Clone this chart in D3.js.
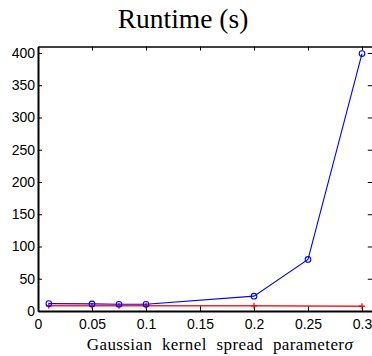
<!DOCTYPE html>
<html>
<head>
<meta charset="utf-8">
<script src="https://cdn.jsdelivr.net/npm/d3@7"></script>
<style>
  body { margin: 0; background: #fff; }
  svg { display: block; }
  .tick text { font-family: "Liberation Sans", Arial, sans-serif; font-size: 14px; fill: #000; }
</style>
</head>
<body>
<div id="chartArea"></div>
<script>
// sigma values and runtimes (seconds)
const sigmaBlue = [0.01, 0.05, 0.075, 0.1, 0.2, 0.25, 0.3];
const runtimeBlue = [11.5, 11, 10.5, 10.5, 23, 80, 399];
const sigmaRed = [0.01, 0.05, 0.075, 0.1, 0.2, 0.3];
const runtimeRed = [8, 8, 8, 8, 8, 7.5];
const xTicks = [0, 0.05, 0.1, 0.15, 0.2, 0.25, 0.3];
const xTickLabels = ["0", "0.05", "0.1", "0.15", "0.2", "0.25", "0.3"];
const yTicks = [0, 50, 100, 150, 200, 250, 300, 350, 400];

const width = 372, height = 356;
const margin = { left: 38, top: 46.5, bottom: 45 };

const svg = d3.select("#chartArea")
              .append("svg")
              .attr("width", width)
              .attr("height", height);

let x = d3.scaleLinear().domain([0, 0.31]).range([margin.left, 372.8]);
let y = d3.scaleLinear().domain([0, 410]).range([height - margin.bottom, margin.top]);

// axes box, ticks pointing inward like matlab
svg.append("g")
     .attr("transform", `translate(0,${y(0)})`)
     .call(d3.axisBottom(x).tickValues(xTicks).tickSize(-5).tickSizeOuter(0).tickPadding(8)
             .tickFormat((d, i) => xTickLabels[i]))
     .call(g => g.select(".domain").attr("stroke-width", 2));
svg.append("g")
     .attr("transform", `translate(0,${y(410)})`)
     .call(d3.axisTop(x).tickValues(xTicks).tickSize(-4).tickSizeOuter(0).tickFormat(""))
     .call(g => g.select(".domain").attr("stroke-width", 1.5));
svg.append("g")
     .attr("transform", `translate(${x(0)},0)`)
     .call(d3.axisLeft(y).tickValues(yTicks).tickSize(-4).tickSizeOuter(0).tickPadding(3))
     .call(g => g.select(".domain").attr("stroke-width", 2));
svg.append("g")
     .attr("transform", `translate(${x(0.31)},0)`)
     .call(d3.axisRight(y).tickValues(yTicks).tickSize(-5).tickSizeOuter(0).tickFormat(""))
     .call(g => g.select(".domain").attr("stroke-width", 1.5));

svg.selectAll(".tick line").attr("stroke", "#000");

const line = d3.line().x(d => x(d[0])).y(d => y(d[1]));
const redData = sigmaRed.map((s, i) => [s, runtimeRed[i]]);
const blueData = sigmaBlue.map((s, i) => [s, runtimeBlue[i]]);

svg.append("path")
     .datum(redData)
     .attr("d", line)
     .attr("fill", "none")
     .attr("stroke", "#ff2020")
     .attr("stroke-width", 1.5);
svg.append("g").selectAll("path")
     .data(redData)
     .enter().append("path")
       .attr("d", d => `M${x(d[0]) - 3},${y(d[1])}h6M${x(d[0])},${y(d[1]) - 3}v6`)
       .attr("stroke", "#ff0000")
       .attr("stroke-width", 1.2);

svg.append("path")
     .datum(blueData)
     .attr("d", line)
     .attr("fill", "none")
     .attr("stroke", "#0000ff")
     .attr("stroke-width", 1.1);
svg.append("g").selectAll("circle")
     .data(blueData)
     .enter().append("circle")
       .attr("cx", d => x(d[0]))
       .attr("cy", d => y(d[1]))
       .attr("r", 2.8)
       .attr("fill", "none")
       .attr("stroke", "#0000ff")
       .attr("stroke-width", 1.1);

svg.append("text")
     .attr("x", 183)
     .attr("y", 28)
     .attr("text-anchor", "middle")
     .style("font-family", "'Liberation Serif', 'Times New Roman', serif")
     .style("font-size", "27.5px")
     .text("Runtime (s)");

let xLabel = svg.append("text")
     .attr("x", 220)
     .attr("y", 350)
     .attr("text-anchor", "middle")
     .style("font-family", "'Liberation Serif', 'Times New Roman', serif")
     .style("font-size", "17px")
     .style("word-spacing", "5px")
     .style("letter-spacing", "0.4px");
xLabel.append("tspan").text("Gaussian kernel spread parameter");
xLabel.append("tspan").style("font-style", "italic").text("σ");
</script>
</body>
</html>
